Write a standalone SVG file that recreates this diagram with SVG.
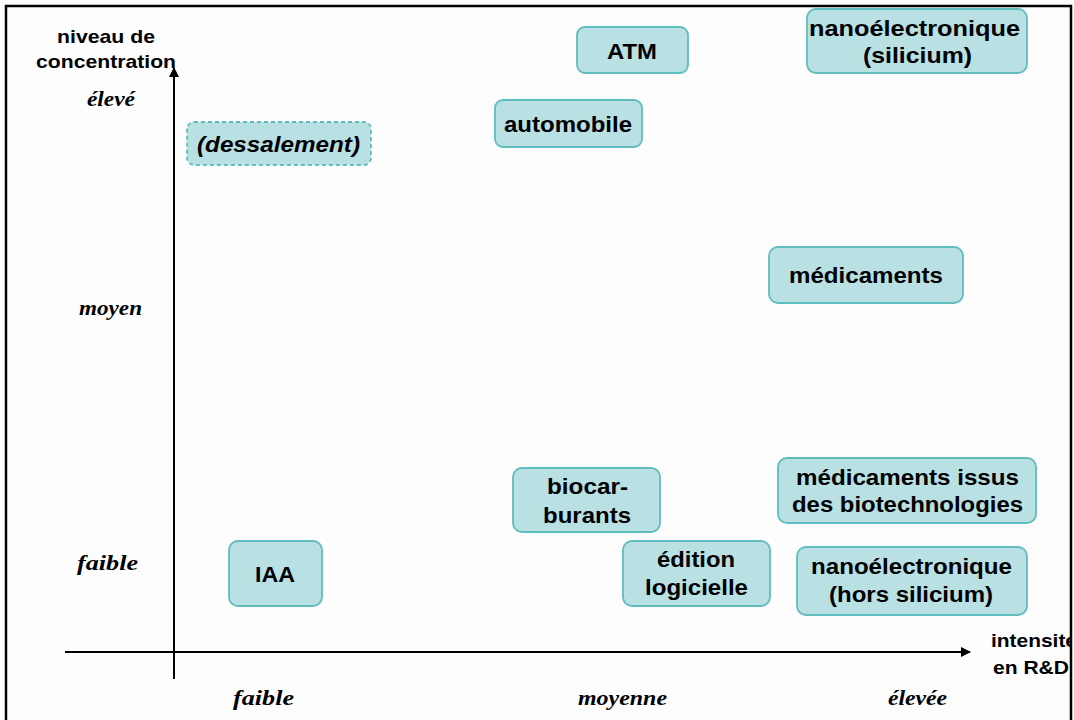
<svg xmlns="http://www.w3.org/2000/svg" width="1074" height="720" viewBox="0 0 1074 720">
  <defs>
    <style>
      .box { fill: #b9e0e3; stroke: #5fbcbf; stroke-width: 1.8; }
      .dash { stroke-dasharray: 4 3; }
      .lbl { font-family: "Liberation Sans", Arial, sans-serif; font-weight: bold; font-size: 22px; fill: #000; }
      .ax { font-family: "Liberation Sans", Arial, sans-serif; font-weight: bold; font-size: 19px; fill: #000; }
      .tick { font-family: "Liberation Serif", "Times New Roman", serif; font-weight: bold; font-style: italic; font-size: 21px; fill: #000; }
      .axis { stroke: #000; stroke-width: 2; fill: none; }
    </style>
    <marker id="arrow" viewBox="0 0 10 10" refX="9" refY="5" markerWidth="5" markerHeight="5" orient="auto" markerUnits="strokeWidth">
      <path d="M0,0 L10,5 L0,10 z" fill="#000"/>
    </marker>
    <clipPath id="frameClip">
      <rect x="0" y="0" width="1071" height="720"/>
    </clipPath>
  </defs>

  <rect x="0" y="0" width="1074" height="720" fill="#fdfdfd"/>

  <!-- axes -->
  <g id="connectors">
    <line class="axis" x1="174" y1="679" x2="174" y2="68" marker-end="url(#arrow)"/>
    <line class="axis" x1="65" y1="652" x2="970" y2="652" marker-end="url(#arrow)"/>
  </g>

  <!-- axis titles -->
  <g id="axis-y-title">
    <text class="ax" x="57" y="43" textLength="98" lengthAdjust="spacingAndGlyphs">niveau de</text>
    <text class="ax" x="36" y="68" textLength="140" lengthAdjust="spacingAndGlyphs">concentration</text>
  </g>
  <g id="axis-x-title" clip-path="url(#frameClip)">
    <text class="ax" x="991" y="647" textLength="86" lengthAdjust="spacingAndGlyphs">intensité</text>
    <text class="ax" x="993" y="674" textLength="76" lengthAdjust="spacingAndGlyphs">en R&amp;D</text>
  </g>

  <!-- scale levels -->
  <g id="y-levels">
    <text class="tick" x="87" y="106" textLength="48" lengthAdjust="spacingAndGlyphs">élevé</text>
    <text class="tick" x="79" y="315" textLength="63" lengthAdjust="spacingAndGlyphs">moyen</text>
    <text class="tick" x="77" y="570" textLength="61" lengthAdjust="spacingAndGlyphs">faible</text>
  </g>
  <g id="x-levels">
    <text class="tick" x="233" y="705" textLength="61" lengthAdjust="spacingAndGlyphs">faible</text>
    <text class="tick" x="578" y="705" textLength="89" lengthAdjust="spacingAndGlyphs">moyenne</text>
    <text class="tick" x="888" y="705" textLength="59" lengthAdjust="spacingAndGlyphs">élevée</text>
  </g>

  <!-- sectors -->
  <g id="node-atm">
    <rect class="box" x="577" y="27" width="111" height="46" rx="8"/>
    <text class="lbl" x="607" y="59" textLength="50" lengthAdjust="spacingAndGlyphs">ATM</text>
  </g>
  <g id="node-nano-silicium">
    <rect class="box" x="807" y="9" width="220" height="64" rx="9"/>
    <text class="lbl" x="809" y="36" textLength="211" lengthAdjust="spacingAndGlyphs">nanoélectronique</text>
    <text class="lbl" x="863" y="63" textLength="109" lengthAdjust="spacingAndGlyphs">(silicium)</text>
  </g>
  <g id="node-automobile">
    <rect class="box" x="495" y="100" width="147" height="47" rx="8"/>
    <text class="lbl" x="504" y="132" textLength="128" lengthAdjust="spacingAndGlyphs">automobile</text>
  </g>
  <g id="node-dessalement">
    <rect class="box dash" x="187" y="122" width="184" height="43" rx="7"/>
    <text class="lbl" x="197" y="152" font-style="italic" textLength="163" lengthAdjust="spacingAndGlyphs">(dessalement)</text>
  </g>
  <g id="node-medicaments">
    <rect class="box" x="769" y="247" width="194" height="56" rx="9"/>
    <text class="lbl" x="789" y="283" textLength="154" lengthAdjust="spacingAndGlyphs">médicaments</text>
  </g>
  <g id="node-medicaments-biotech">
    <rect class="box" x="778" y="458" width="258" height="65" rx="9"/>
    <text class="lbl" x="796" y="485" textLength="223" lengthAdjust="spacingAndGlyphs">médicaments issus</text>
    <text class="lbl" x="792" y="512" textLength="231" lengthAdjust="spacingAndGlyphs">des biotechnologies</text>
  </g>
  <g id="node-biocarburants">
    <rect class="box" x="513" y="468" width="147" height="64" rx="9"/>
    <text class="lbl" x="547" y="494" textLength="81" lengthAdjust="spacingAndGlyphs">biocar-</text>
    <text class="lbl" x="543" y="523" textLength="88" lengthAdjust="spacingAndGlyphs">burants</text>
  </g>
  <g id="node-edition">
    <rect class="box" x="623" y="541" width="147" height="65" rx="9"/>
    <text class="lbl" x="657" y="567" textLength="78" lengthAdjust="spacingAndGlyphs">édition</text>
    <text class="lbl" x="645" y="595" textLength="103" lengthAdjust="spacingAndGlyphs">logicielle</text>
  </g>
  <g id="node-nano-hors-silicium">
    <rect class="box" x="797" y="547" width="230" height="68" rx="9"/>
    <text class="lbl" x="811" y="574" textLength="201" lengthAdjust="spacingAndGlyphs">nanoélectronique</text>
    <text class="lbl" x="829" y="602" textLength="164" lengthAdjust="spacingAndGlyphs">(hors silicium)</text>
  </g>
  <g id="node-iaa">
    <rect class="box" x="229" y="541" width="93" height="65" rx="9"/>
    <text class="lbl" x="255" y="582" textLength="40" lengthAdjust="spacingAndGlyphs">IAA</text>
  </g>

  <!-- frame -->
  <path d="M6,722 V6 H1071 V722" fill="none" stroke="#000" stroke-width="2.5"/>
</svg>
